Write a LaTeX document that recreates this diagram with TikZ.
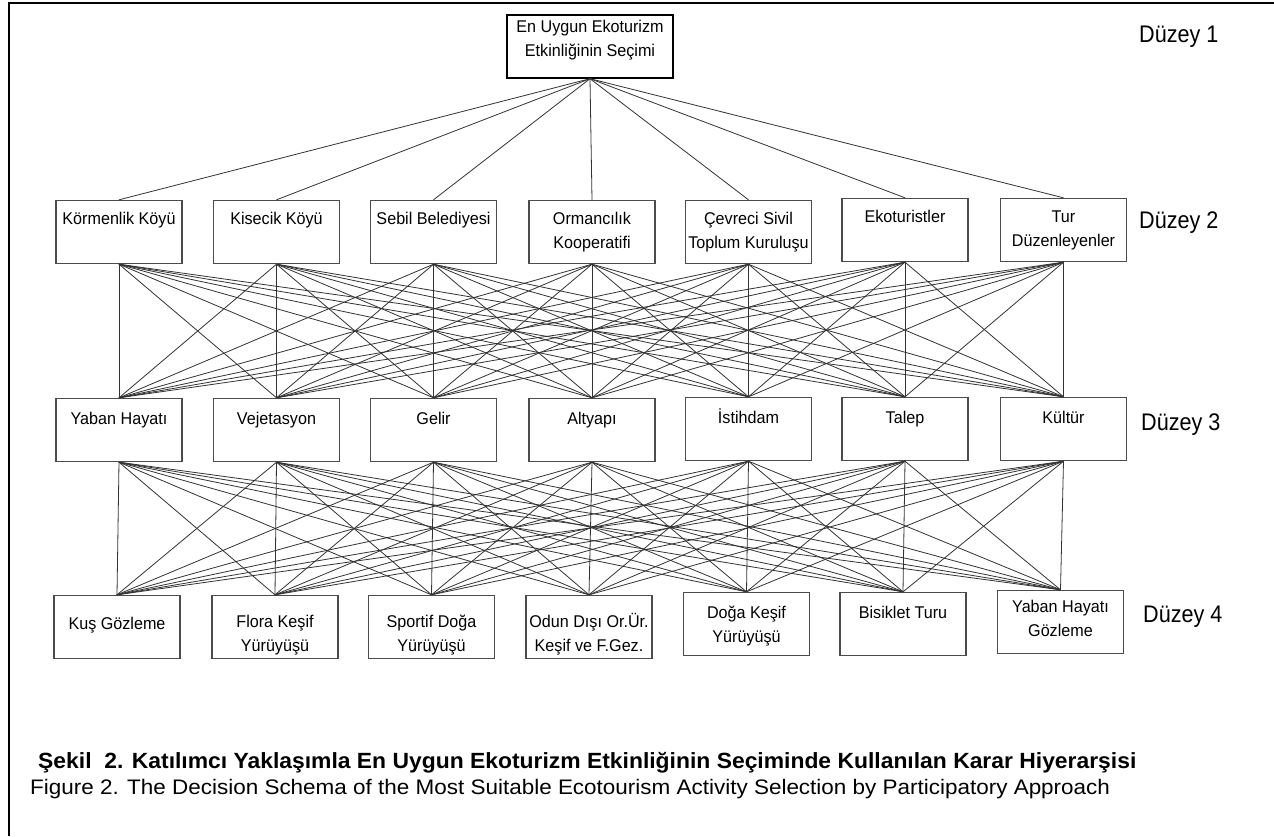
\documentclass[tikz,border=0pt]{standalone}
\usepackage{fontspec}
\setmainfont{Liberation Sans}
\newfontfamily\boxfont[FakeStretch=0.95]{Liberation Sans}
\newfontfamily\tagfont[FakeStretch=0.9]{Liberation Sans}
\newfontfamily\capfont[FakeStretch=1.04]{Liberation Sans}
\newfontfamily\capenfont[FakeStretch=1.07]{Liberation Sans}
\usetikzlibrary{positioning}

% text set at the top of a box; optional arg is the strut of the first line
\newcommand{\toptext}[2][20]{\parbox[t][56pt][t]{124pt}{\centering\rule{0pt}{#1pt}#2}}

\tikzset{
    box/.style={draw=black!70, line width=1.4pt, minimum width=126pt, minimum height=63pt,
        inner sep=0pt, font=\boxfont\fontsize{17}{24}\selectfont},
    link/.style={black!80, line width=0.8pt},
    tag/.style={anchor=west, inner sep=0pt, font=\tagfont\fontsize{24}{28}\selectfont},
}

\begin{document}
\begin{tikzpicture}[x=1pt, y=-1pt]
    \useasboundingbox (0,0) rectangle (1274,836);
    \fill[white] (0,0) rectangle (1274,836);
    \draw[line width=2.4pt] (9,836) -- (9,3) -- (1274,3);

    % level 1
    \node[box, draw=black, minimum width=166pt] (goal) at (590,46.5)
        {\parbox[t][56pt][t]{162pt}{\centering\rule{0pt}{14pt}En Uygun Ekoturizm\\Etkinliğinin Seçimi}};

    % level 2
    \node[box] (st-1) at (119,232) {\toptext{Körmenlik Köyü}};
    \node[box] (st-2) at (276.5,232) {\toptext{Kisecik Köyü}};
    \node[box] (st-3) at (433.5,232) {\toptext{Sebil Belediyesi}};
    \node[box] (st-4) at (592,232) {\toptext{Ormancılık\\Kooperatifi}};
    \node[box] (st-5) at (748.5,232) {\toptext{Çevreci Sivil\\Toplum Kuruluşu}};
    \node[box] (st-6) at (905,230) {\toptext{Ekoturistler}};
    \node[box] (st-7) at (1063.5,230) {\toptext{Tur\\Düzenleyenler}};

    % level 3
    \node[box] (cr-1) at (119,430) {\toptext[22]{Yaban Hayatı}};
    \node[box] (cr-2) at (276.5,430) {\toptext[22]{Vejetasyon}};
    \node[box] (cr-3) at (433.5,430) {\toptext[22]{Gelir}};
    \node[box] (cr-4) at (592,430) {\toptext[22]{Altyapı}};
    \node[box] (cr-5) at (748.5,429) {\toptext[22]{İstihdam}};
    \node[box] (cr-6) at (905,429) {\toptext[22]{Talep}};
    \node[box] (cr-7) at (1063.5,429) {\toptext[22]{Kültür}};

    % level 4
    \node[box] (ac-1) at (117,627) {\toptext[30]{Kuş Gözleme}};
    \node[box] (ac-2) at (275,627) {\toptext[28]{Flora Keşif\\Yürüyüşü}};
    \node[box] (ac-3) at (431.5,627) {\toptext[28]{Sportif Doğa\\Yürüyüşü}};
    \node[box] (ac-4) at (589,627) {\toptext[28]{Odun Dışı Or.Ür.\\Keşif ve F.Gez.}};
    \node[box] (ac-5) at (746.5,624) {\toptext[22]{Doğa Keşif\\Yürüyüşü}};
    \node[box] (ac-6) at (903,624) {\toptext[22]{Bisiklet Turu}};
    \node[box] (ac-7) at (1060.5,622) {\toptext[18]{Yaban Hayatı\\Gözleme}};

    % level tags
    \node[tag] (tag-1) at (1139,37) {Düzey 1};
    \node[tag] (tag-2) at (1139,223) {Düzey 2};
    \node[tag] (tag-3) at (1141,425) {Düzey 3};
    \node[tag] (tag-4) at (1143,617) {Düzey 4};

    % connectors
    \foreach \i in {1,...,7}
        \draw[link] (goal.south) -- (st-\i.north);
    \foreach \i in {1,...,7}
        \foreach \j in {1,...,7}{
            \draw[link] (st-\i.south) -- (cr-\j.north);
            \draw[link] (cr-\i.south) -- (ac-\j.north);
        }

    % caption
    \node[anchor=base west, inner sep=0pt, font=\capfont\bfseries\fontsize{22}{26}\selectfont] (cap-tr) at (38,768)
        {Şekil \ 2. Katılımcı Yaklaşımla En Uygun Ekoturizm Etkinliğinin Seçiminde Kullanılan Karar Hiyerarşisi};
    \node[anchor=base west, inner sep=0pt, font=\capenfont\fontsize{21}{26}\selectfont] (cap-en) at (30,794)
        {Figure 2. The Decision Schema of the Most Suitable Ecotourism Activity Selection by Participatory Approach};
\end{tikzpicture}
\end{document}
